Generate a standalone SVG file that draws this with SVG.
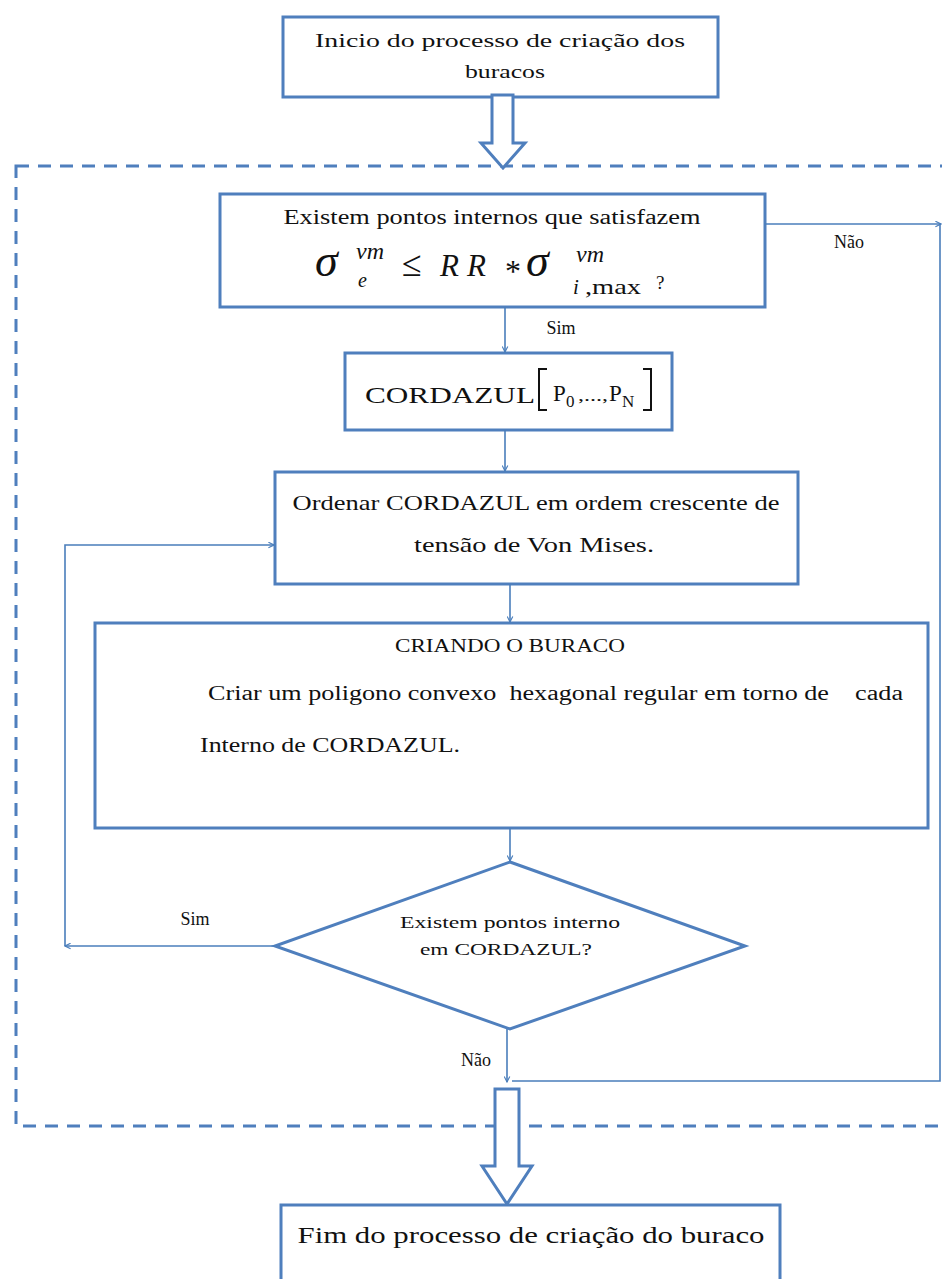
<svg xmlns="http://www.w3.org/2000/svg" width="942" height="1279" viewBox="0 0 942 1279">
  <style>
    .box { fill: #ffffff; stroke: #4f7fbd; stroke-width: 3; }
    .hollow { fill: #ffffff; stroke: #4f7fbd; stroke-width: 3; stroke-linejoin: miter; }
    .frame { fill: none; stroke: #4f7fbd; stroke-width: 3; stroke-dasharray: 13 9; }
    .link { fill: none; stroke: #4a7ebb; stroke-width: 1.6; }
    .t { font-family: "Liberation Serif", "Times New Roman", serif; fill: #111111; }
    .m { font-family: "Liberation Serif", "Times New Roman", serif; font-style: italic; fill: #111111; }
  </style>
  <defs>
    <marker id="arr" viewBox="0 0 10 10" refX="9" refY="5" markerWidth="7" markerHeight="7" orient="auto" markerUnits="userSpaceOnUse">
      <path d="M1,1 L9,5 L1,9" fill="none" stroke="#4a7ebb" stroke-width="1.6"/>
    </marker>
  </defs>

  <!-- dashed loop frame -->
  <rect class="frame" x="16" y="166" width="960" height="960"/>

  <!-- start -->
  <g id="start">
    <rect class="box" x="283" y="17" width="435" height="80"/>
    <text class="t" x="500" y="47" font-size="19" text-anchor="middle" textLength="370" lengthAdjust="spacingAndGlyphs">Inicio do processo de criação dos</text>
    <text class="t" x="505" y="78" font-size="19" text-anchor="middle" textLength="80" lengthAdjust="spacingAndGlyphs">buracos</text>
  </g>

  <!-- block arrow into the loop -->
  <g id="enter-arrow">
    <path class="hollow" d="M492,95 L513,95 L513,143 L525,143 L503,168 L481,143 L492,143 Z"/>
  </g>

  <!-- first test -->
  <g id="test-points">
    <rect class="box" x="220" y="194" width="545" height="113"/>
    <text class="t" x="492" y="224" font-size="20" text-anchor="middle" textLength="417" lengthAdjust="spacingAndGlyphs">Existem pontos internos que satisfazem</text>
    <text class="m" x="315" y="276" font-size="46">σ</text>
    <text class="m" x="356" y="259" font-size="24">vm</text>
    <text class="m" x="358" y="287" font-size="20">e</text>
    <text class="t" x="402" y="276" font-size="36">≤</text>
    <text class="m" x="440" y="276" font-size="31">R</text>
    <text class="m" x="467" y="276" font-size="31">R</text>
    <text class="t" x="505" y="282" font-size="32">*</text>
    <text class="m" x="526" y="276" font-size="46">σ</text>
    <text class="m" x="576" y="262" font-size="24">vm</text>
    <text class="m" x="573" y="294" font-size="21">i</text>
    <text class="t" x="585" y="294" font-size="21" textLength="56" lengthAdjust="spacingAndGlyphs">,max</text>
    <text class="t" x="656" y="289" font-size="19">?</text>
  </g>

  <!-- point list -->
  <g id="point-list">
    <rect class="box" x="345" y="353" width="327" height="77"/>
    <text class="t" x="365" y="403" font-size="24" textLength="170" lengthAdjust="spacingAndGlyphs">CORDAZUL</text>
    <path d="M547,369 L539,369 L539,410 L547,410" fill="none" stroke="#111111" stroke-width="2"/>
    <text class="t" x="553" y="401" font-size="23">P</text>
    <text class="t" x="566" y="407" font-size="17">0</text>
    <text class="t" x="578" y="401" font-size="16" textLength="30" lengthAdjust="spacingAndGlyphs">,...,</text>
    <text class="t" x="609" y="401" font-size="23">P</text>
    <text class="t" x="622" y="407" font-size="17">N</text>
    <path d="M643,369 L651,369 L651,410 L643,410" fill="none" stroke="#111111" stroke-width="2"/>
  </g>

  <!-- sort step -->
  <g id="sort">
    <rect class="box" x="275" y="472" width="523" height="112"/>
    <text class="t" x="536" y="510" font-size="21" text-anchor="middle" textLength="487" lengthAdjust="spacingAndGlyphs">Ordenar CORDAZUL em ordem crescente de</text>
    <text class="t" x="534" y="552" font-size="21" text-anchor="middle" textLength="240" lengthAdjust="spacingAndGlyphs">tensão de Von Mises.</text>
  </g>

  <!-- hole creation -->
  <g id="create-hole">
    <rect class="box" x="95" y="623" width="833" height="205"/>
    <text class="t" x="510" y="652" font-size="18" text-anchor="middle" textLength="230" lengthAdjust="spacingAndGlyphs">CRIANDO O BURACO</text>
    <text class="t" x="208" y="700" font-size="20" textLength="695" lengthAdjust="spacingAndGlyphs" xml:space="preserve">Criar um poligono convexo  hexagonal regular em torno de    cada</text>
    <text class="t" x="200" y="752" font-size="20" textLength="260" lengthAdjust="spacingAndGlyphs">Interno de CORDAZUL.</text>
  </g>

  <!-- remaining points test -->
  <g id="test-remaining">
    <polygon class="box" points="510,862 745,946 510,1029 275,946"/>
    <text class="t" x="510" y="928" font-size="17" text-anchor="middle" textLength="220" lengthAdjust="spacingAndGlyphs">Existem pontos interno</text>
    <text class="t" x="506" y="955" font-size="17" text-anchor="middle" textLength="172" lengthAdjust="spacingAndGlyphs">em CORDAZUL?</text>
  </g>

  <!-- block arrow out of the loop -->
  <g id="exit-arrow">
    <path class="hollow" d="M495,1089 L519,1089 L519,1166 L532,1166 L507,1204 L482,1166 L495,1166 Z"/>
  </g>

  <!-- end -->
  <g id="end">
    <rect class="box" x="281" y="1205" width="499" height="90"/>
    <text class="t" x="531" y="1243" font-size="24" text-anchor="middle" textLength="467" lengthAdjust="spacingAndGlyphs">Fim do processo de criação do buraco</text>
  </g>

  <!-- connectors -->
  <g id="connectors">
    <path class="link" d="M505,307 L505,352" marker-end="url(#arr)"/>
    <path class="link" d="M505,430 L505,471" marker-end="url(#arr)"/>
    <path class="link" d="M510,584 L510,622" marker-end="url(#arr)"/>
    <path class="link" d="M510,828 L510,861" marker-end="url(#arr)"/>
    <path class="link" d="M275,946 L65,946" marker-end="url(#arr)"/>
    <path class="link" d="M65,946 L65,545 L274,545" marker-end="url(#arr)"/>
    <path class="link" d="M507,1029 L507,1082" marker-end="url(#arr)"/>
    <path class="link" d="M765,224 L941,224" marker-end="url(#arr)"/>
    <path class="link" d="M940,224 L940,1081 L512,1081"/>
    <text class="t" x="561" y="334" font-size="18" text-anchor="middle">Sim</text>
    <text class="t" x="849" y="248" font-size="18" text-anchor="middle">Não</text>
    <text class="t" x="195" y="925" font-size="18" text-anchor="middle">Sim</text>
    <text class="t" x="476" y="1066" font-size="18" text-anchor="middle">Não</text>
  </g>
</svg>
